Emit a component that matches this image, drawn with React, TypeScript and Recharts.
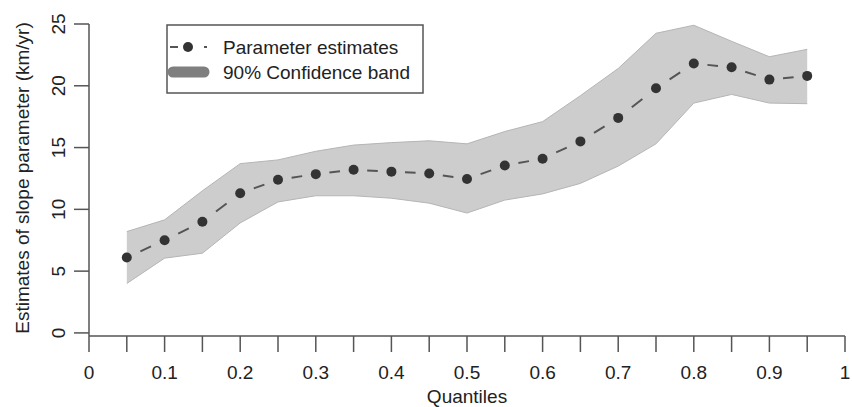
import React from 'react';
import { ComposedChart, Area, Line, XAxis, YAxis, Legend } from 'recharts';

const quantiles = [0.05, 0.1, 0.15, 0.2, 0.25, 0.3, 0.35, 0.4, 0.45, 0.5, 0.55, 0.6, 0.65, 0.7, 0.75, 0.8, 0.85, 0.9, 0.95];
const estimates = [6.1, 7.5, 9.0, 11.3, 12.4, 12.85, 13.2, 13.05, 12.9, 12.45, 13.55, 14.1, 15.5, 17.4, 19.8, 21.8, 21.5, 20.5, 20.8];
const upperBand = [8.2, 9.15, 11.5, 13.7, 14.0, 14.7, 15.2, 15.4, 15.55, 15.3, 16.3, 17.1, 19.2, 21.4, 24.25, 24.9, 23.6, 22.35, 22.95];
const lowerBand = [4.0, 6.05, 6.45, 8.9, 10.6, 11.1, 11.1, 10.9, 10.5, 9.7, 10.75, 11.25, 12.1, 13.5, 15.3, 18.6, 19.3, 18.6, 18.55];

const xTicks = [0, 0.05, 0.1, 0.15, 0.2, 0.25, 0.3, 0.35, 0.4, 0.45, 0.5, 0.55, 0.6, 0.65, 0.7, 0.75, 0.8, 0.85, 0.9, 0.95, 1];
const xTickLabels = ['0', '', '0.1', '', '0.2', '', '0.3', '', '0.4', '', '0.5', '', '0.6', '', '0.7', '', '0.8', '', '0.9', '', '1'];
const yTicks = [0, 5, 10, 15, 20, 25];
const yTickLabels = ['0', '5', '10', '15', '20', '25'];

const data = quantiles.map((q, i) => ({
  q,
  est: estimates[i],
  band: [lowerBand[i], upperBand[i]],
}));

// one two-point series per gap between estimates (R type="b" style: one dash per gap)
const segments = quantiles.slice(0, -1).map((q, i) => [
  { q, seg: estimates[i] },
  { q: quantiles[i + 1], seg: estimates[i + 1] },
]);

const FONT = '"Liberation Sans", Arial, Helvetica, sans-serif';
const TEXT = '#222';
const AXIS = '#555';

const XTick = (props: any) => {
  const { x, y, index } = props;
  const label = xTickLabels[index];
  if (!label) return null;
  return (
    <text x={x} y={y + 25} textAnchor="middle" fontFamily={FONT} fontSize={19} fill={TEXT}>
      {label}
    </text>
  );
};

const YTick = (props: any) => {
  const { x, y, index } = props;
  return (
    <text
      transform={`translate(${x - 14},${y}) rotate(-90)`}
      textAnchor="middle"
      dy="0.35em"
      fontFamily={FONT}
      fontSize={19}
      fill={TEXT}
    >
      {yTickLabels[index]}
    </text>
  );
};

const LegendBox = () => (
  <svg width={258} height={70} style={{ display: 'block' }}>
    <rect x={1} y={1} width={256} height={68} fill="#fff" stroke={AXIS} strokeWidth={1.5} />
    <line x1={4} y1={23} x2={12} y2={23} stroke={AXIS} strokeWidth={2} />
    <circle cx={22} cy={23} r={5} fill="#333" />
    <line x1={38} y1={23} x2={41} y2={23} stroke={AXIS} strokeWidth={2} />
    <line x1={7} y1={48} x2={38} y2={48} stroke="#7f7f7f" strokeWidth={11} strokeLinecap="round" />
    <text x={57} y={23} dy="0.35em" fontFamily={FONT} fontSize={19} fill={TEXT}>
      Parameter estimates
    </text>
    <text x={57} y={48} dy="0.35em" fontFamily={FONT} fontSize={19} fill={TEXT}>
      90% Confidence band
    </text>
  </svg>
);

export default function App() {
  return (
    <div style={{ position: 'absolute', left: 0, top: 0, width: 852, height: 407, background: '#fff' }}>
      <ComposedChart
        width={852}
        height={407}
        data={data}
        margin={{ top: 24, right: 7, bottom: 11, left: 29 }}
      >
        <XAxis
          dataKey="q"
          type="number"
          domain={[0, 1]}
          ticks={xTicks}
          interval={0}
          height={60}
          tickSize={16}
          axisLine={{ stroke: AXIS, strokeWidth: 1.5 }}
          tickLine={{ stroke: AXIS, strokeWidth: 1.5 }}
          tick={<XTick />}
          allowDuplicatedCategory={false}
          label={{
            content: (p: any) => {
              const vb = p.viewBox || {};
              return (
                <text x={vb.x + vb.width / 2} y={vb.y + 67} textAnchor="middle" fontFamily={FONT} fontSize={19} fill={TEXT}>
                  Quantiles
                </text>
              );
            },
          }}
        />
        <YAxis
          type="number"
          domain={[-0.25, 25]}
          ticks={yTicks}
          interval={0}
          allowDataOverflow
          width={60}
          tickSize={15}
          axisLine={{ stroke: AXIS, strokeWidth: 1.5 }}
          tickLine={{ stroke: AXIS, strokeWidth: 1.5 }}
          tick={<YTick />}
          label={{
            content: (p: any) => {
              const vb = p.viewBox || {};
              return (
                <text
                  transform={`translate(${vb.x},${vb.y + vb.height / 2 - 2}) rotate(-90)`}
                  textAnchor="middle"
                  fontFamily={FONT}
                  fontSize={19}
                  fill={TEXT}
                >
                  Estimates of slope parameter (km/yr)
                </text>
              );
            },
          }}
        />
        <Legend
          layout="vertical"
          align="center"
          verticalAlign="middle"
          content={() => <LegendBox />}
          wrapperStyle={{ left: 166, top: 24, width: 258, height: 70 }}
        />
        <Area
          dataKey="band"
          type="linear"
          fill="#cdcdcd"
          fillOpacity={1}
          stroke="#b5b5b5"
          strokeWidth={1}
          isAnimationActive={false}
          activeDot={false}
          dot={false}
          legendType="none"
        />
        {segments.map((seg, i) => (
          <Line
            key={`seg-${i}`}
            data={seg}
            dataKey="seg"
            type="linear"
            stroke={AXIS}
            strokeWidth={2}
            pathLength={1}
            strokeDasharray="0 0.36 0.28 0.36"
            dot={false}
            activeDot={false}
            legendType="none"
            isAnimationActive={false}
          />
        ))}
        <Line
          dataKey="est"
          type="linear"
          stroke="none"
          dot={{ r: 5, fill: '#333', stroke: 'none' }}
          activeDot={false}
          legendType="none"
          isAnimationActive={false}
        />
      </ComposedChart>
    </div>
  );
}
